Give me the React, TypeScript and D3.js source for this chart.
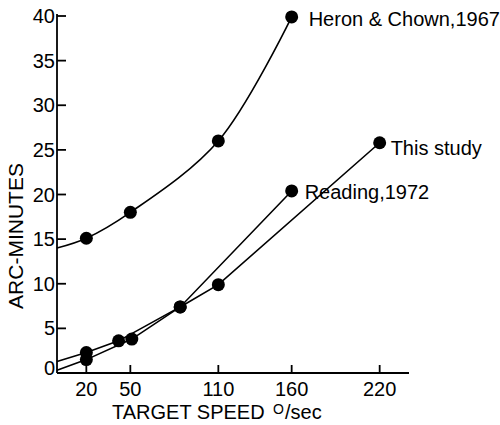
import React from "react";
import * as d3 from "d3";

// Tick values
const X_TICKS = [20, 50, 110, 160, 220];
const Y_TICKS = [0, 5, 10, 15, 20, 25, 30, 35, 40];

// Series: target speed (deg/sec) and threshold (arc-minutes)
const SERIES_NAMES = ["Heron & Chown,1967", "Reading,1972", "This study"];

const HERON_SPEED = [20, 50, 110, 160];
const HERON_ARC = [15.1, 18.0, 26.0, 39.9];

const READING_SPEED = [20, 42, 84, 160];
const READING_ARC = [2.3, 3.6, 7.4, 20.4];

const STUDY_SPEED = [20, 51, 84, 110, 220];
const STUDY_ARC = [1.5, 3.8, 7.4, 9.9, 25.8];

// Value where each fitted curve meets the vertical axis (0 deg/sec)
const LINE_ORIGIN = [14.0, 1.3, 0.3];

const WIDTH = 500;
const HEIGHT = 425;
const FONT = "'Liberation Sans', Arial, sans-serif";

// Offsets of each series name from its last point, and the curve used
const SERIES_STYLE = [
  { dx: 17, dy: 9, curve: d3.curveCatmullRom.alpha(0.5) },
  { dx: 13, dy: 8, curve: d3.curveLinear },
  { dx: 11, dy: 12, curve: d3.curveLinear },
];

export default function App() {
  const x = d3.scaleLinear().domain([0, 240]).range([57, 409]);
  const y = d3.scaleLinear().domain([0, 40]).range([373, 16]);

  const series = [
    { speed: HERON_SPEED, arc: HERON_ARC },
    { speed: READING_SPEED, arc: READING_ARC },
    { speed: STUDY_SPEED, arc: STUDY_ARC },
  ].map((s, i) => ({
    name: SERIES_NAMES[i],
    points: s.speed.map((v, j) => [v, s.arc[j]] as [number, number]),
    origin: LINE_ORIGIN[i],
    style: SERIES_STYLE[i],
  }));

  const axisY0 = y(0);
  const axisX0 = x(0);

  return (
    <svg
      width={WIDTH}
      height={HEIGHT}
      style={{ position: "absolute", left: 0, top: 0, background: "#fff" }}
      fontFamily={FONT}
    >
      <rect width={WIDTH} height={HEIGHT} fill="#fff" />

      {/* axes */}
      <g stroke="#000" strokeWidth={1.8} fill="none">
        <line x1={axisX0} y1={y(40) - 2} x2={axisX0} y2={axisY0} />
        <line x1={axisX0} y1={axisY0} x2={x(240)} y2={axisY0} />
        {Y_TICKS.filter((t) => t > 0).map((t) => (
          <line key={t} x1={axisX0} x2={axisX0 + 9} y1={y(t)} y2={y(t)} />
        ))}
        {X_TICKS.map((t) => (
          <line key={t} x1={x(t)} x2={x(t)} y1={axisY0} y2={axisY0 - 8} />
        ))}
      </g>

      {/* tick labels */}
      <g fontSize={20} fill="#000">
        {Y_TICKS.map((t) => (
          <text
            key={t}
            x={axisX0 - 2}
            y={y(t) - (t === 0 ? 5 : 0)}
            textAnchor="end"
            dominantBaseline="central"
          >
            {t}
          </text>
        ))}
        {X_TICKS.map((t) => (
          <text key={t} x={x(t)} y={396} textAnchor="middle">
            {t}
          </text>
        ))}
      </g>

      {/* axis titles */}
      <text
        transform={`translate(23, 236) rotate(-90)`}
        textAnchor="middle"
        fontSize={21}
        fill="#000"
      >
        ARC-MINUTES
      </text>
      <text x={112} y={419} fontSize={20} fill="#000">
        TARGET SPEED
      </text>
      <text x={273} y={414} fontSize={14} fill="#000">
        O
      </text>
      <text x={285} y={419} fontSize={20} fill="#000">
        /sec
      </text>

      {/* curves */}
      {series.map((s) => {
        const line = d3
          .line<[number, number]>()
          .x((d) => x(d[0]))
          .y((d) => y(d[1]))
          .curve(s.style.curve);
        return (
          <path
            key={s.name}
            d={line([[0, s.origin], ...s.points]) || ""}
            fill="none"
            stroke="#000"
            strokeWidth={1.6}
          />
        );
      })}

      {/* points */}
      {series.map((s) =>
        s.points.map((p, j) => (
          <circle key={s.name + j} cx={x(p[0])} cy={y(p[1])} r={6.5} fill="#000" />
        ))
      )}

      {/* series names */}
      {series.map((s) => {
        const last = s.points[s.points.length - 1];
        return (
          <text
            key={s.name}
            x={x(last[0]) + s.style.dx}
            y={y(last[1]) + s.style.dy}
            fontSize={20}
            fill="#000"
          >
            {s.name}
          </text>
        );
      })}
    </svg>
  );
}
